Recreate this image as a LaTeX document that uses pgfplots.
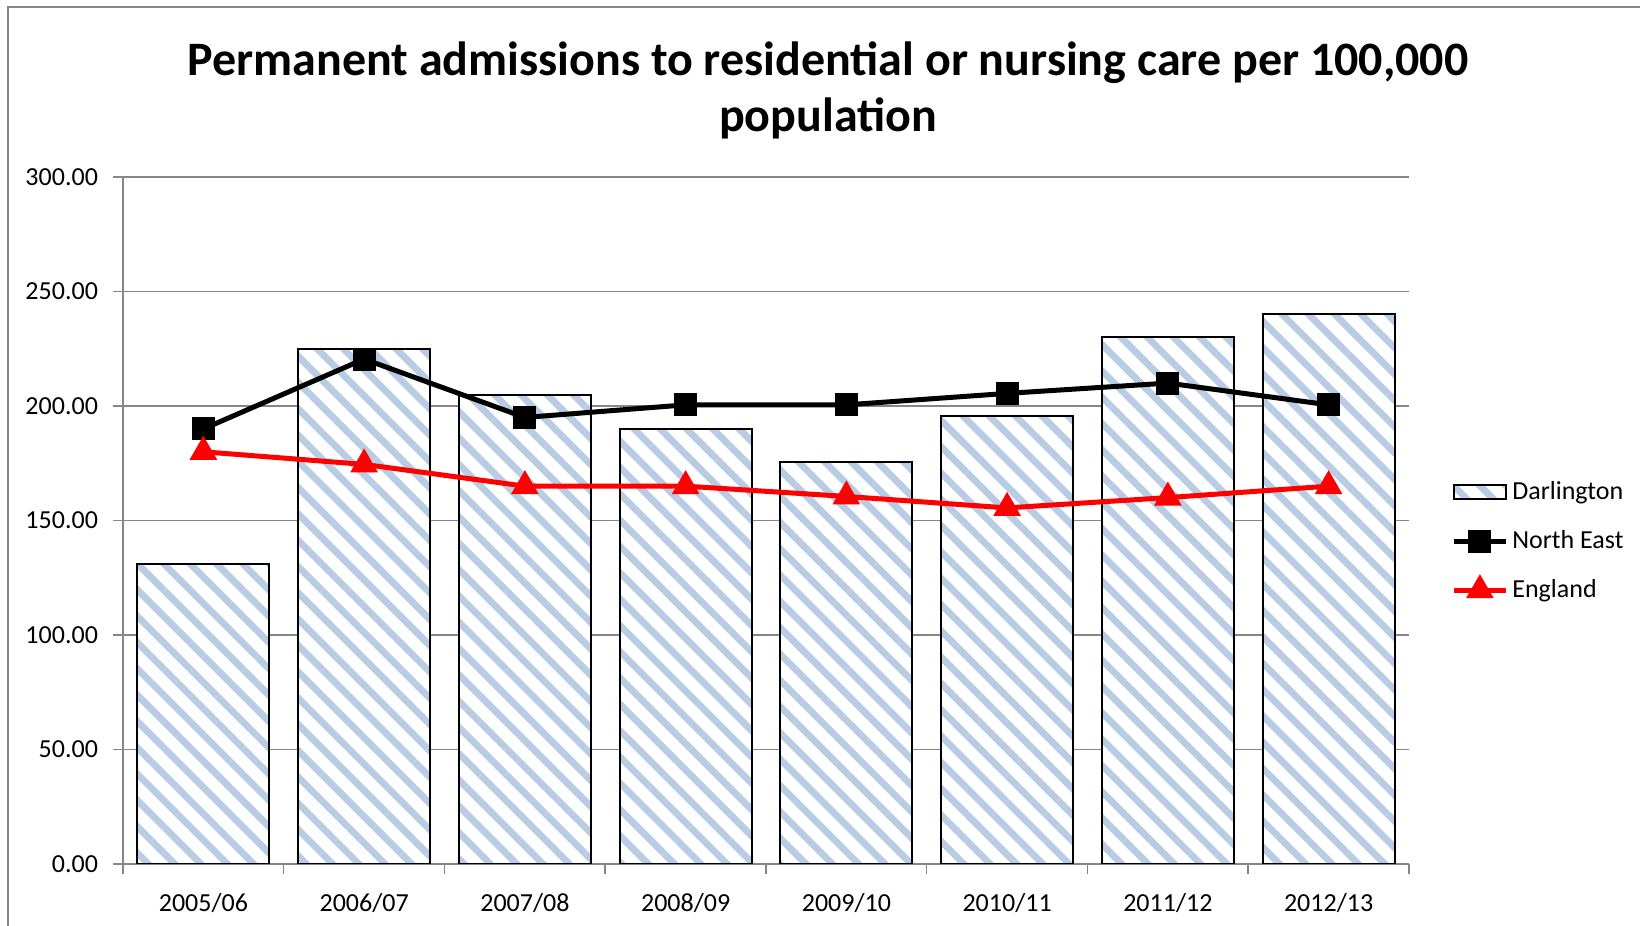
\documentclass[border=0pt]{standalone}
\usepackage{fontspec}
\setmainfont{Carlito}
\usepackage{pgfplots}
\pgfplotsset{compat=1.18}
\usetikzlibrary{patterns.meta}
\definecolor{stripe}{RGB}{184,204,228}
\definecolor{axgray}{RGB}{134,134,134}
\definecolor{exred}{RGB}{255,0,0}
\pgfplotsset{
  barlegend/.style={legend image code/.code={\draw[##1, line width=0.75pt] (0pt,-3.5pt) rectangle (26pt,3.5pt);}},
  linelegend/.style={legend image code/.code={\draw[mark repeat=2, mark phase=2, ##1] plot coordinates {(0pt,0pt) (13pt,0pt) (26pt,0pt)};}},
}
\begin{document}
\begin{tikzpicture}
\useasboundingbox (0,0) rectangle (820pt,463pt);
\draw[axgray, line width=1pt] (4pt,0) -- (4pt,459.5pt) -- (820pt,459.5pt);
\node[font=\fontsize{24}{28}\selectfont\bfseries, align=center] at (414pt,418pt) {Permanent admissions to residential or nursing care per 100,000\\population};
\begin{axis}[
  at={(61.5pt,31pt)}, anchor=south west,
  scale only axis, width=643pt, height=343.5pt,
  xmin=-0.5, xmax=7.5, ymin=0, ymax=300,
  axis lines=left,
  axis line style={-, axgray, line width=0.75pt},
  tick align=outside,
  major tick length=5pt,
  tick style={axgray, line width=0.75pt},
  ytick={0,50,...,300},
  ymajorgrids,
  grid style={axgray, line width=0.75pt},
  /pgf/number format/assume math mode=true,
  yticklabel={\pgfmathprintnumber[fixed,fixed zerofill,precision=2]{\tick}},
  xtick={-0.5,0.5,...,7.5},
  xticklabels={},
  extra x ticks={0,1,2,3,4,5,6,7},
  extra x tick labels={2005/06,2006/07,2007/08,2008/09,2009/10,2010/11,2011/12,2012/13},
  extra x tick style={major tick length=0pt, xticklabel style={yshift=-11pt}},
  tick label style={font=\fontsize{13}{15}\selectfont, black},
  yticklabel style={xshift=-4pt},
  legend style={at={(1.028,0.47)}, anchor=west, draw=none, fill=none,
    font=\fontsize{13}{15}\selectfont, row sep=10pt},
  legend cell align=left,
]
\addplot[ybar, bar width=0.82, draw=black, line width=1pt, fill=white,
  postaction={pattern={Lines[angle=-45,distance=9.3pt,line width=3.4pt]}, pattern color=stripe},
  barlegend]
  coordinates {(0,131) (1,225) (2,205) (3,190) (4,175.5) (5,195.5) (6,230) (7,240)};
\addlegendentry{Darlington}
\addplot[black, line width=2.5pt, mark=square*, mark size=4.5pt, mark options={solid}, linelegend]
  coordinates {(0,190) (1,220.5) (2,195) (3,200.5) (4,200.5) (5,205.5) (6,210) (7,200.5)};
\addlegendentry{North East}
\addplot[exred, line width=2.5pt, mark=triangle*, mark size=5.5pt, mark options={solid}, linelegend]
  coordinates {(0,180) (1,174.5) (2,165) (3,165) (4,160.5) (5,155.5) (6,160) (7,165)};
\addlegendentry{England}
\end{axis}
\end{tikzpicture}
\end{document}
